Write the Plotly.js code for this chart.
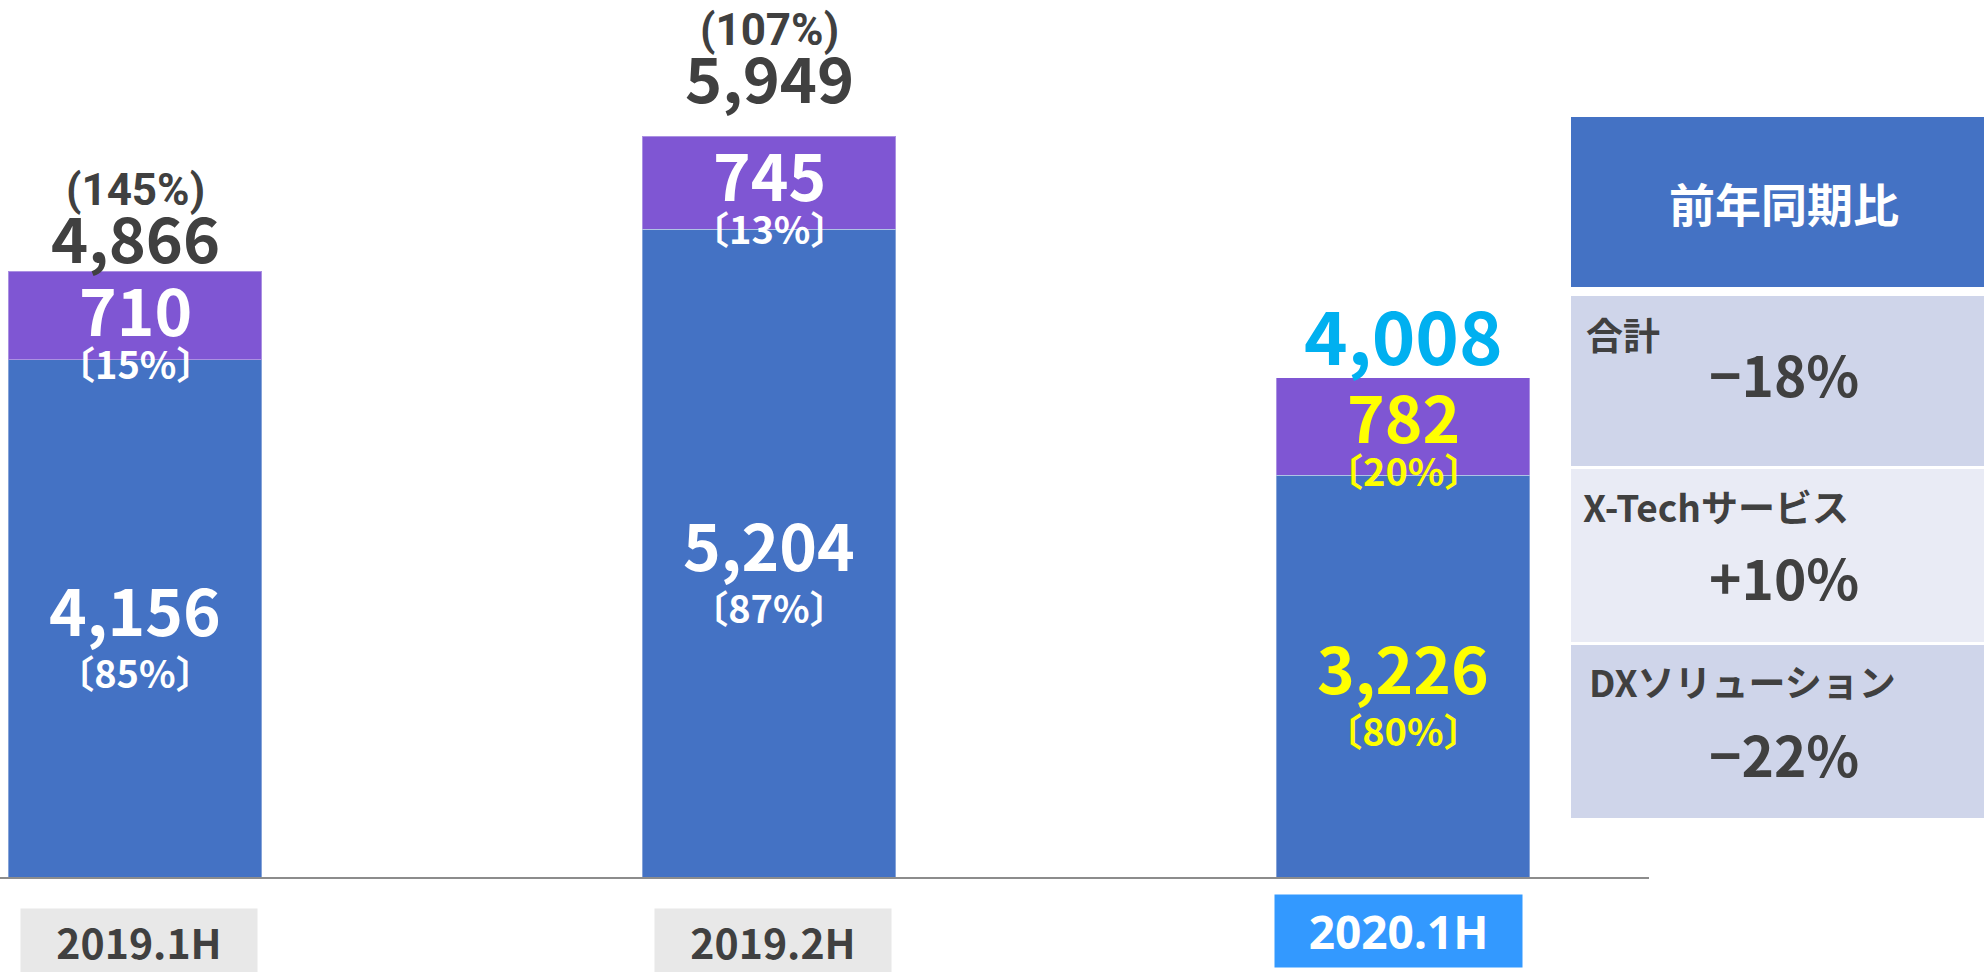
<!DOCTYPE html>
<html>
<head>
<meta charset="utf-8">
<script src="https://cdn.plot.ly/plotly-3.0.1.min.js"></script>
<style>
  html, body { margin: 0; padding: 0; background: #ffffff; }
  #chart { width: 1984px; height: 972px; }
</style>
</head>
<body>
<div id="chart"></div>
<script>
// ---------------- data ----------------
const categories   = ['2019.1H', '2019.2H', '2020.1H'];
const dxValues     = [4156, 5204, 3226];      // DXソリューション (blue, bottom)
const xtechValues  = [710, 745, 782];         // X-Techサービス (purple, top)
const dxShare      = ['85%', '87%', '80%'];
const xtechShare   = ['15%', '13%', '20%'];
const totals       = [4866, 5949, 4008];
const totalGrowth  = ['145%', '107%', null];
const yoyLabels    = ['合計', 'X-Techサービス', 'DXソリューション'];
const yoyValues    = ['−18%', '+10%', '−22%'];
const yoyHeader    = '前年同期比';

// ---------------- styles ----------------
const FONT = '"Noto Sans CJK JP", "Noto Sans", sans-serif';
const BLUE = '#4472c4', PURPLE = '#7f56d3', DARK = '#404040';
const CYAN = '#00b0f0', YELLOW = '#ffff00', HILITE_BOX = '#3399ff', GREY_BOX = '#e8e8e8';
const highlight = [false, false, true];
const totalGap = [8, 33, 13];   // px between bar top and total-label baseline

// plot area in pixels
const PL = 0, PW = 1649, PT = 0, PH = 877;
const px = x => (x - PL) / PW;
const py = y => (PT + PH - y) / PH;

const fmt = v => v.toLocaleString('en-US');
const span = (t, size) => '<span style="font-size:' + size + 'px">' + t + '</span>';
const xs = categories.map((c, i) => i);

const traces = [
  {
    type: 'bar', x: xs, y: dxValues, name: 'DXソリューション',
    width: 0.4,
    marker: { color: BLUE, line: { color: 'rgba(255,255,255,0.35)', width: 1 } },
    hoverinfo: 'skip'
  },
  {
    type: 'bar', x: xs, y: xtechValues, name: 'X-Techサービス',
    width: 0.4,
    marker: { color: PURPLE, line: { color: 'rgba(255,255,255,0.35)', width: 1 } },
    hoverinfo: 'skip'
  }
];

const annotations = [];
function ann(o) {
  annotations.push(Object.assign({
    showarrow: false, xanchor: 'center', yanchor: 'middle',
    xref: 'x', yref: 'y', borderpad: 0
  }, o));
}

xs.forEach((x, i) => {
  const inner = highlight[i] ? YELLOW : '#ffffff';
  // purple segment: value + share (baseline spacing 43px)
  ann({ x, y: totals[i], yshift: -55,
        text: span(fmt(xtechValues[i]), 64) + '<br>' + span('〔' + xtechShare[i] + '〕', 38),
        font: { family: FONT, size: 33, color: inner, weight: 'bold' } });
  // blue segment: value + share (baseline spacing 52px)
  ann({ x, y: dxValues[i] / 2, yshift: -12,
        text: span(fmt(dxValues[i]), 64) + '<br>' + span('〔' + dxShare[i] + '〕', 38),
        font: { family: FONT, size: 40, color: inner, weight: 'bold' } });
  // totals
  if (highlight[i]) {
    ann({ x, y: totals[i], yshift: totalGap[i] + 32, text: fmt(totals[i]),
          font: { family: FONT, size: 74, color: CYAN, weight: 'bold' } });
  } else {
    ann({ x, y: totals[i], yshift: totalGap[i] + 27.5, text: fmt(totals[i]),
          font: { family: FONT, size: 63, color: DARK, weight: 'bold' } });
  }
  // growth rate above total
  if (totalGrowth[i]) {
    ann({ x, y: totals[i], yshift: totalGap[i] + 58 + 15, text: '(' + totalGrowth[i] + ')',
          font: { family: 'Roboto, "Noto Sans", sans-serif', size: 44, color: DARK, weight: 'bold' } });
  }
  // category label boxes
  if (highlight[i]) {
    ann({ x, xshift: -5, yref: 'paper', y: py(931), text: categories[i],
          width: 247, height: 72, bgcolor: HILITE_BOX,
          font: { family: '"Noto Sans", sans-serif', size: 46, color: '#ffffff', weight: 'bold' } });
  } else {
    ann({ x, xshift: 4, yref: 'paper', y: py(940), text: categories[i],
          width: 236, height: 63, bgcolor: GREY_BOX,
          font: { family: FONT, size: 41, color: DARK, weight: 'bold' } });
  }
});

// ---------------- YoY table ----------------
const shapes = [];
const tblX0 = 1571, tblX1 = 1990;
const rows = [ [296, 466, '#cfd5ea'], [469, 642, '#e9ebf5'], [645, 818, '#cfd5ea'] ];
shapes.push({ type: 'rect', xref: 'paper', yref: 'paper', x0: px(tblX0), x1: px(tblX1),
              y0: py(117), y1: py(287), fillcolor: BLUE, line: { width: 0 }, layer: 'above' });
rows.forEach(r => shapes.push({ type: 'rect', xref: 'paper', yref: 'paper',
  x0: px(tblX0), x1: px(tblX1), y0: py(r[0]), y1: py(r[1]), fillcolor: r[2], line: { width: 0 }, layer: 'above' }));

annotations.push({ xref: 'paper', yref: 'paper', x: px(1784), y: py(202), text: yoyHeader,
  showarrow: false, xanchor: 'center', yanchor: 'middle',
  font: { family: FONT, size: 46, color: '#ffffff', weight: 'bold' } });

const labelX = [1584, 1581, 1587];
const labelY = [334, 506, 681];
const valueY = [373, 576, 753];
yoyLabels.forEach((t, i) => {
  annotations.push({ xref: 'paper', yref: 'paper', x: px(labelX[i]), y: py(labelY[i]), text: t,
    showarrow: false, xanchor: 'left', yanchor: 'middle',
    font: { family: FONT, size: 37, color: DARK, weight: 'bold' } });
  annotations.push({ xref: 'paper', yref: 'paper', x: px(1784), y: py(valueY[i]), text: yoyValues[i],
    showarrow: false, xanchor: 'center', yanchor: 'middle',
    font: { family: FONT, size: 55, color: DARK, weight: 'bold' } });
});

const layout = {
  width: 1984, height: 972,
  margin: { l: PL, r: 1984 - PL - PW, t: PT, b: 972 - PT - PH, pad: 0 },
  paper_bgcolor: '#ffffff', plot_bgcolor: '#ffffff',
  barmode: 'stack',
  showlegend: false,
  xaxis: {
    range: [-0.213, 2.388], showgrid: false, zeroline: false,
    showline: true, linecolor: '#8c8c8c', linewidth: 2,
    showticklabels: false, ticks: '', fixedrange: true
  },
  yaxis: {
    range: [0, 7044], visible: false, showgrid: false, zeroline: false, fixedrange: true
  },
  shapes, annotations,
  font: { family: FONT }
};

Plotly.newPlot('chart', traces, layout, { displayModeBar: false, staticPlot: true });
</script>
</body>
</html>
